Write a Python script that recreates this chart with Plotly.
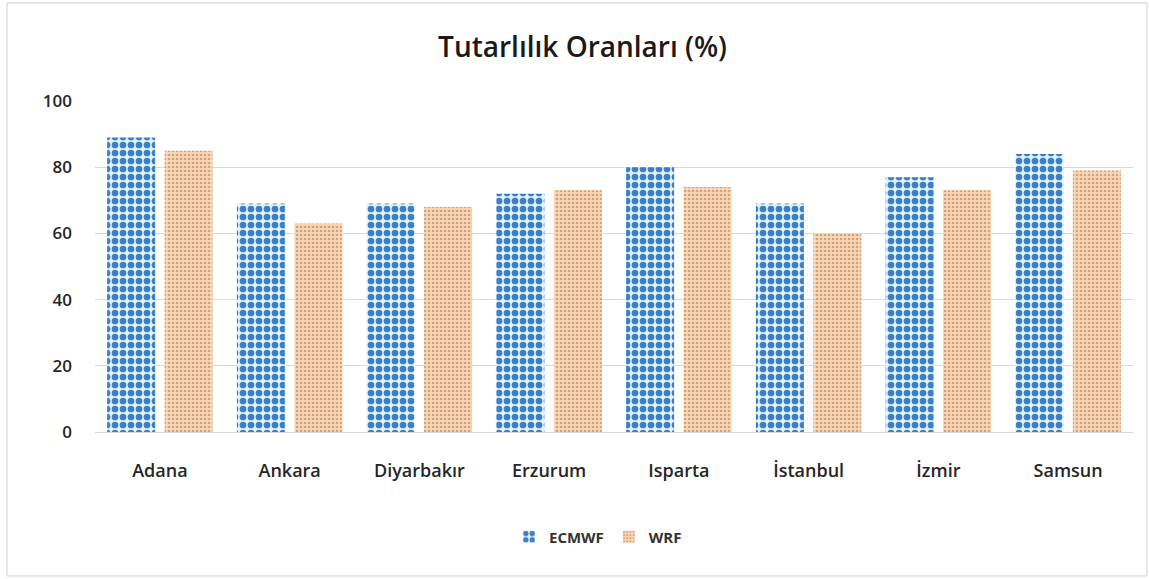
import plotly.graph_objects as go

cities = ["Adana", "Ankara", "Diyarbakır", "Erzurum", "Isparta", "İstanbul", "İzmir", "Samsun"]
ecmwf = [89, 69, 69, 72, 80, 69, 77, 84]
wrf = [85, 63, 68, 73, 74, 60, 73, 79]
y_ticks = [0, 20, 40, 60, 80, 100]

FONT = "Open Sans, Lato, sans-serif"

fig = go.Figure()
fig.add_trace(go.Bar(
    name="ECMWF", x=cities, y=ecmwf,
    marker=dict(color="#DDEEFA", line=dict(width=0),
                pattern=dict(shape=".", fgcolor="#3B7FC4", bgcolor="#E3F1FB",
                             size=8, solidity=0.55, fillmode="replace")),
))
fig.add_trace(go.Bar(
    name="WRF", x=cities, y=wrf,
    marker=dict(color="#F5D6BA", line=dict(width=0),
                pattern=dict(shape=".", fgcolor="#D9A070", bgcolor="#F6D8BE",
                             size=4, solidity=0.35, fillmode="replace")),
))

fig.update_layout(
    width=1149, height=579,
    margin=dict(l=95, r=16, t=101, b=147),
    paper_bgcolor="white", plot_bgcolor="white",
    font=dict(family=FONT, color="#404040", size=16),
    title=dict(text="Tutarlılık Oranları (%)", x=0.507, xanchor="center",
               y=0.919, yanchor="middle",
               font=dict(size=28, color="#1a1a1a", family=FONT, weight=600)),
    barmode="group", bargap=0.114, bargroupgap=0.165,
    showlegend=True,
    legend=dict(orientation="h", x=0.4846, xanchor="center", y=-0.317, yanchor="middle",
                font=dict(size=15, color="#333333", family=FONT, weight=700), itemwidth=30),
    xaxis=dict(showgrid=False, showline=True, linecolor="#D9D9D9", linewidth=1,
               ticks="", tickfont=dict(size=18, color="#262626", family=FONT, weight=600),
               ticklabelstandoff=22),
    yaxis=dict(range=[0, 100], tickvals=y_ticks, showgrid=True, gridcolor="#D9D9D9",
               gridwidth=1, zeroline=False, showline=False, ticks="",
               tickfont=dict(size=17, color="#262626", family=FONT, weight=600),
               ticklabelstandoff=22),
    shapes=[dict(type="rect", xref="paper", yref="paper",
                 x0=-0.0848, x1=1.0135, y0=-0.435, y1=1.296,
                 line=dict(color="#D0D0D0", width=1), fillcolor="rgba(0,0,0,0)", layer="below")],
)

fig.write_html("out.html", config={"displayModeBar": False},
               post_script="document.body.style.margin='0px';")
